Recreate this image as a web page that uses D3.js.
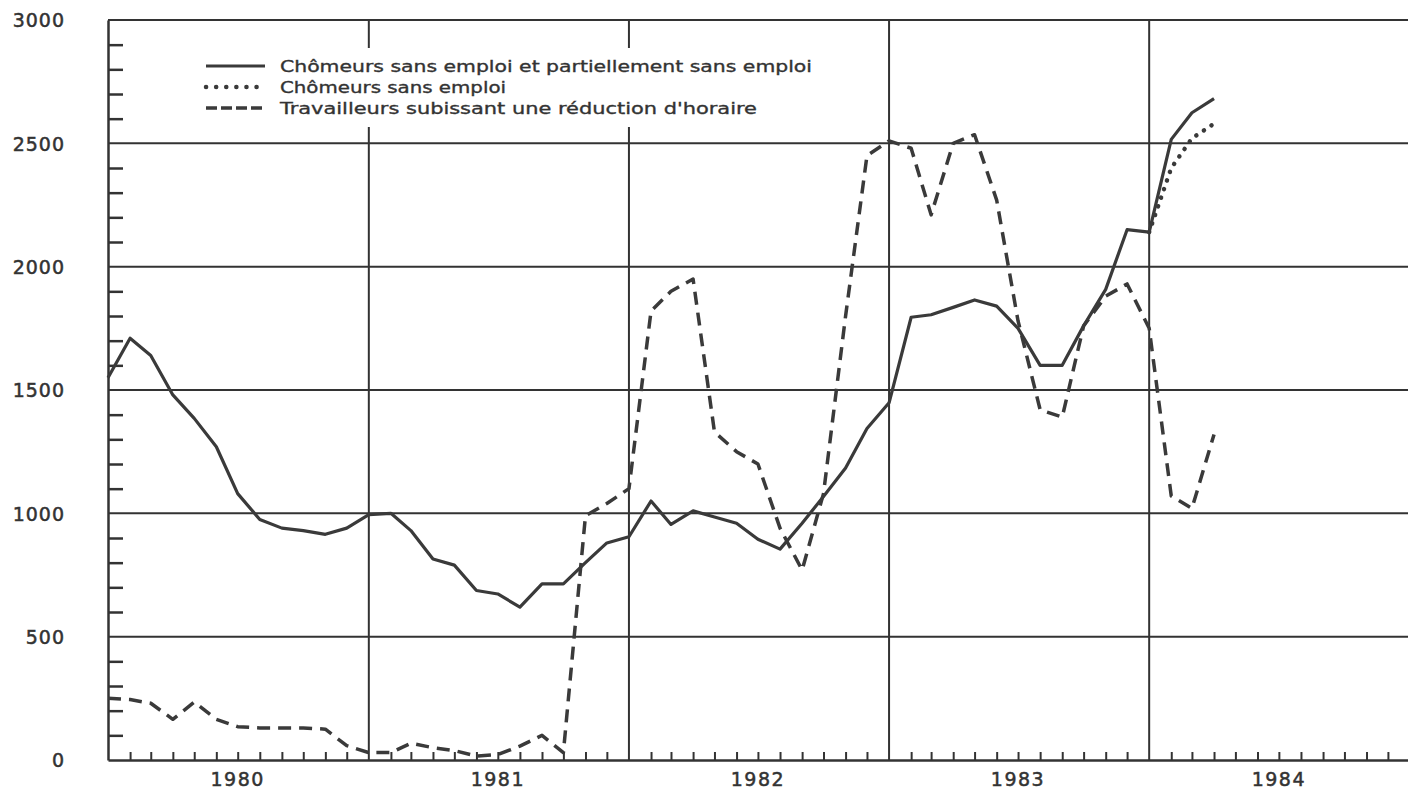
<!DOCTYPE html>
<html>
<head>
<meta charset="utf-8">
<script src="https://cdn.jsdelivr.net/npm/d3@7"></script>
<style>
  html, body { margin: 0; padding: 0; background: #ffffff; }
  svg { display: block; }
  text { font-family: "DejaVu Sans", "Liberation Sans", sans-serif; fill: #333; }
</style>
</head>
<body>
<svg id="chart" width="1408" height="805"></svg>
<script>
// ---- Data (monthly, Jan 1980 – Apr 1984), thousands ----
const periods = [
  "1980-01","1980-02","1980-03","1980-04","1980-05","1980-06","1980-07","1980-08","1980-09","1980-10","1980-11","1980-12",
  "1981-01","1981-02","1981-03","1981-04","1981-05","1981-06","1981-07","1981-08","1981-09","1981-10","1981-11","1981-12",
  "1982-01","1982-02","1982-03","1982-04","1982-05","1982-06","1982-07","1982-08","1982-09","1982-10","1982-11","1982-12",
  "1983-01","1983-02","1983-03","1983-04","1983-05","1983-06","1983-07","1983-08","1983-09","1983-10","1983-11","1983-12",
  "1984-01","1984-02","1984-03","1984-04"
];
// Chômeurs sans emploi et partiellement sans emploi
const totalUnemployed = [
  1550,1710,1640,1480,1385,1270,1080,975,940,930,915,940,
  995,1000,930,815,790,687,673,620,714,714,800,880,
  905,1050,955,1010,985,960,895,855,960,1068,1184,1344,
  1448,1795,1805,1835,1865,1840,1750,1600,1600,1760,1908,2150,
  2140,2516,2624,2681
];
// Chômeurs sans emploi (1984 only)
const fullyUnemployedPeriods = ["1984-01","1984-02","1984-03","1984-04"];
const fullyUnemployed = [2140,2400,2520,2580];
// Travailleurs subissant une réduction d'horaire
const shortTime = [
  250,245,230,165,235,165,135,130,130,130,125,58,
  30,30,68,50,38,16,22,56,100,30,990,1040,
  1100,1820,1900,1950,1330,1250,1200,940,770,1080,1800,2450,
  2510,2480,2210,2500,2535,2270,1780,1420,1390,1760,1880,1930,
  1750,1070,1020,1320
];
const yearLabels = ["1980","1981","1982","1983","1984"];
const yMajorTicks = [0,500,1000,1500,2000,2500,3000];
const legendLabels = [
  "Chômeurs sans emploi et partiellement sans emploi",
  "Chômeurs sans emploi",
  "Travailleurs subissant une réduction d'horaire"
];

// ---- Layout ----
const svg = d3.select("#chart");
const pLeft = 108, pRight = 1410, pTop = 20, pBottom = 760;
const ink = "#333";
const parse = d3.timeParse("%Y-%m");

const x = d3.scaleTime()
  .domain([new Date(1980,0,1), new Date(1985,0,1)])
  .range([pLeft, pRight]);
const y = d3.scaleLinear().domain([0,3000]).range([pBottom, pTop]);

svg.append("rect").attr("width",1408).attr("height",805).attr("fill","#ffffff");

// horizontal grid lines (major)
svg.append("g").selectAll("line").data(yMajorTicks.filter(d => d > 0)).join("line")
  .attr("x1", pLeft).attr("x2", 1408)
  .attr("y1", d => y(d)).attr("y2", d => y(d))
  .attr("stroke", ink).attr("stroke-width", 2);

// vertical year boundary lines
const yearStarts = yearLabels.slice(1).map(s => new Date(+s,0,1));
svg.append("g").selectAll("line").data(yearStarts).join("line")
  .attr("x1", d => x(d)).attr("x2", d => x(d))
  .attr("y1", pTop).attr("y2", pBottom)
  .attr("stroke", ink).attr("stroke-width", 2);

// left axis: minor ticks every 100 inside, labels at majors
const yAxisMinor = d3.axisLeft(y)
  .tickValues(d3.range(0, 3001, 100).filter(v => v % 500 !== 0))
  .tickSizeInner(-15).tickSizeOuter(0).tickFormat("");
const gyMinor = svg.append("g").attr("transform", `translate(${pLeft},0)`).call(yAxisMinor);
gyMinor.select(".domain").attr("stroke", ink).attr("stroke-width", 2.5);
gyMinor.selectAll(".tick line").attr("stroke", ink).attr("stroke-width", 2.5);

const yAxisLabels = d3.axisLeft(y).tickValues(yMajorTicks).tickSize(0).tickPadding(43)
  .tickFormat(d3.format("d"));
const gyLab = svg.append("g").attr("transform", `translate(${pLeft},0)`).call(yAxisLabels);
gyLab.select(".domain").remove();
gyLab.selectAll(".tick text")
  .style("font-family", '"DejaVu Sans", sans-serif')
  .style("font-size", "19px").style("letter-spacing", "1px")
  .attr("fill", ink).attr("stroke", ink).attr("stroke-width", 0.5)
  .attr("dy", "0.36em");

// bottom axis: monthly ticks pointing up
const monthTicks = d3.timeMonth.range(new Date(1980,1,1), new Date(1985,0,1))
  .filter(d => d.getMonth() !== 0);
const xAxis = d3.axisBottom(x).tickValues(monthTicks)
  .tickSizeInner(-8).tickSizeOuter(0).tickFormat("");
const gx = svg.append("g").attr("transform", `translate(0,${pBottom})`).call(xAxis);
gx.select(".domain").attr("stroke", ink).attr("stroke-width", 2.5);
gx.selectAll(".tick line").attr("stroke", ink).attr("stroke-width", 2);

// top frame
svg.append("line").attr("x1", pLeft).attr("x2", 1408).attr("y1", pTop).attr("y2", pTop)
  .attr("stroke", ink).attr("stroke-width", 2);

// year labels centred in each year
svg.append("g").selectAll("text").data(yearLabels).join("text")
  .attr("x", d => x(new Date(+d,6,1)))
  .attr("y", 786)
  .attr("text-anchor", "middle")
  .style("font-size", "19px").style("letter-spacing", "1.5px")
  .attr("stroke", ink).attr("stroke-width", 0.5)
  .text(d => d);

// ---- Lines ----
const line = d3.line().x(d => x(d[0])).y(d => y(d[1]));
const dates = periods.map(parse);

svg.append("path")
  .datum(dates.map((d,i) => [d, shortTime[i]]))
  .attr("d", line).attr("fill","none")
  .attr("stroke", "#3a3a3a").attr("stroke-width", 3.5)
  .attr("stroke-dasharray", "13 8").attr("stroke-linejoin","round");

svg.append("path")
  .datum(fullyUnemployedPeriods.map((p,i) => [parse(p), fullyUnemployed[i]]))
  .attr("d", line).attr("fill","none")
  .attr("stroke", "#3a3a3a").attr("stroke-width", 4.5)
  .attr("stroke-linecap","round")
  .attr("stroke-dasharray", "0.1 9");

svg.append("path")
  .datum(dates.map((d,i) => [d, totalUnemployed[i]]))
  .attr("d", line).attr("fill","none")
  .attr("stroke", "#3a3a3a").attr("stroke-width", 3.2)
  .attr("stroke-linejoin","round");

// ---- Legend ----
svg.append("rect").attr("x", 196).attr("y", 48).attr("width", 622).attr("height", 79)
  .attr("fill", "#ffffff");
const legendStyles = [
  {dash: null, width: 3.2, cap: "butt"},
  {dash: "0.1 10", width: 4.5, cap: "round"},
  {dash: "11 4", width: 3.5, cap: "butt"}
];
const legendWidths = [532, 226, 477];
const lg = svg.append("g");
legendLabels.forEach((lab, i) => {
  const cy = 66 + i * 21;
  const st = legendStyles[i];
  const l = lg.append("line").attr("x1", 206).attr("x2", 265).attr("y1", cy).attr("y2", cy)
    .attr("stroke", "#3a3a3a").attr("stroke-width", st.width).attr("stroke-linecap", st.cap);
  if (st.dash) l.attr("stroke-dasharray", st.dash);
  lg.append("text").attr("x", 280).attr("y", cy).attr("dy", "0.36em")
    .style("font-size", "16px")
    .attr("stroke", ink).attr("stroke-width", 0.35)
    .attr("textLength", legendWidths[i]).attr("lengthAdjust", "spacingAndGlyphs")
    .text(lab);
});
</script>
</body>
</html>
